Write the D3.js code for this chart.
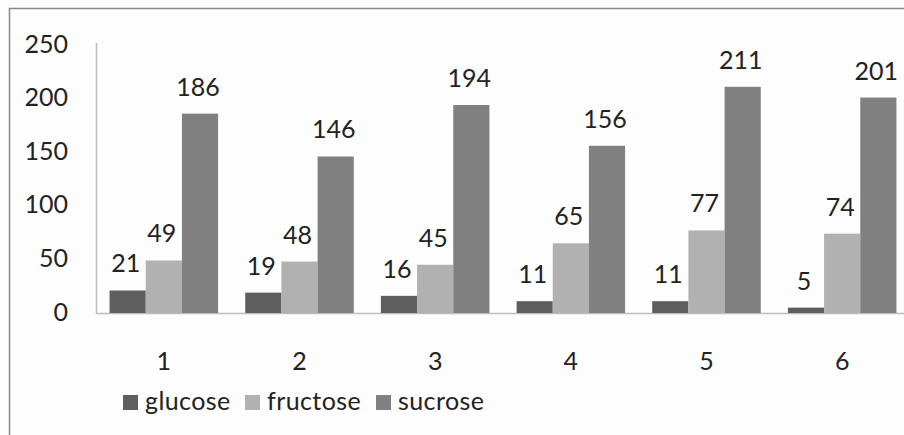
<!DOCTYPE html>
<html>
<head>
<meta charset="utf-8">
<script src="https://cdn.jsdelivr.net/npm/d3@7"></script>
<style>
  html, body { margin: 0; padding: 0; background: #fff; }
  svg text { font-family: Lato, "Open Sans", sans-serif; fill: #222; }
</style>
</head>
<body>
<svg id="chart" width="904" height="435"></svg>
<script>
// Sugar content per sample
const categories = ["1", "2", "3", "4", "5", "6"];
const seriesNames = ["glucose", "fructose", "sucrose"];
const glucose = [21, 19, 16, 11, 11, 5];
const fructose = [49, 48, 45, 65, 77, 74];
const sucrose = [186, 146, 194, 156, 211, 201];
const yTicks = [0, 50, 100, 150, 200, 250];

const seriesValues = [glucose, fructose, sucrose];
const colors = ["#5e5e5e", "#b1b1b1", "#808080"];
const FS = 25;

const svg = d3.select("#chart");
const W = 904, H = 435;

// outer frame (left and top edges)
svg.append("rect").attr("width", W).attr("height", H).attr("fill", "#fdfdfd");
svg.append("path")
  .attr("d", `M9.5,${H} L9.5,8.5 L${W},8.5`)
  .attr("fill", "none").attr("stroke", "#8a8a8a").attr("stroke-width", 1.5);

const plot = { left: 96, right: 910, top: 45, bottom: 313 };

const x = d3.scaleBand().domain(categories)
  .range([plot.left, plot.right]).paddingInner(0.2).paddingOuter(0.1);
const xs = d3.scaleBand().domain(seriesNames).range([0, x.bandwidth()]);
const y = d3.scaleLinear().domain([0, 250]).range([plot.bottom, plot.top]);

// y axis
const yAxis = svg.append("g").attr("transform", `translate(${plot.left},0)`)
  .call(d3.axisLeft(y).tickValues(yTicks).tickSize(0).tickPadding(28));
yAxis.select(".domain").attr("stroke", "#bdbdbd").attr("stroke-width", 1.5)
  .attr("d", `M0.5,${y(250) - 2}V${plot.bottom}`);
yAxis.selectAll("text").attr("font-size", FS).attr("dy", "0.28em")
  .style("font-family", "Lato, sans-serif").attr("fill", "#222");

// x axis
const xAxis = svg.append("g").attr("transform", `translate(0,${plot.bottom})`)
  .call(d3.axisBottom(x).tickSize(0).tickPadding(39));
xAxis.select(".domain").attr("stroke", "#bdbdbd").attr("stroke-width", 1.5)
  .attr("d", `M${plot.left},0.5H${W}`);
xAxis.selectAll("text").attr("font-size", FS)
  .style("font-family", "Lato, sans-serif").attr("fill", "#222");

// bars
const groups = svg.append("g").selectAll("g").data(categories).join("g")
  .attr("transform", c => `translate(${x(c)},0)`);

groups.selectAll("rect")
  .data((c, i) => seriesNames.map((s, k) => ({ s, v: seriesValues[k][i], k })))
  .join("rect")
  .attr("x", d => xs(d.s))
  .attr("width", xs.bandwidth())
  .attr("y", d => y(d.v))
  .attr("height", d => plot.bottom - y(d.v))
  .attr("fill", d => colors[d.k]);

// value labels
groups.selectAll("text.val")
  .data((c, i) => seriesNames.map((s, k) => ({ s, v: seriesValues[k][i], k })))
  .join("text").attr("class", "val")
  .attr("x", d => xs(d.s) + xs.bandwidth() / 2 - 2)
  .attr("y", d => y(d.v) - 18)
  .attr("text-anchor", "middle")
  .attr("font-size", FS)
  .text(d => d.v);

// legend
const legendX = [123, 245, 376];
const leg = svg.append("g").selectAll("g").data(seriesNames).join("g")
  .attr("transform", (d, i) => `translate(${legendX[i]},395)`);
leg.append("rect").attr("width", 15).attr("height", 15).attr("fill", (d, i) => colors[i]);
leg.append("text").attr("x", 22).attr("y", 15).attr("font-size", FS)
  .attr("letter-spacing", 0.4).text(d => d);
</script>
</body>
</html>
